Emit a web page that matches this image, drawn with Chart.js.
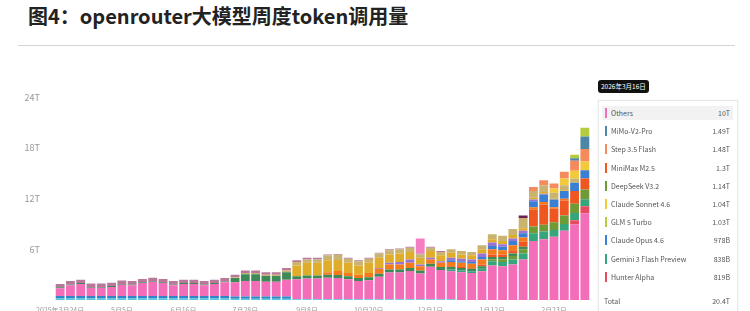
<!DOCTYPE html>
<html>
<head>
<meta charset="utf-8">
<script src="https://cdn.jsdelivr.net/npm/chart.js@4"></script>
<style>
body{margin:0;width:750px;height:311px;overflow:hidden;background:#fff;font-family:"Noto Sans CJK SC",sans-serif;position:relative}
#title{position:absolute;left:28px;top:1px;font-size:20px;font-weight:bold;color:#222;white-space:nowrap}
#rule{position:absolute;left:18px;top:45px;width:717px;height:1px;background:#d4d4d4}
#wrap{position:absolute;left:0;top:85px;width:600px;height:235px}
#badge{position:absolute;left:598px;top:80px;height:13px;padding:0 3px;background:#111;color:#fff;border-radius:3px;font-size:6.5px;line-height:13px}
#panel{position:absolute;left:598px;top:100px;width:138px;height:230px;border:1px solid #e8e8e8;background:#fff;box-shadow:0 0 3px rgba(0,0,0,.06)}
.row{position:absolute;left:3px;right:4px;height:14px;font-size:7px;color:#555;line-height:14px}
.row .mk{position:absolute;left:3px;top:2px;width:2px;height:10px}
.row .nm{position:absolute;left:9px}
.row .vl{position:absolute;right:3px}
</style>
</head>
<body>
<div id="title">图4：openrouter大模型周度token调用量</div>
<div id="rule"></div>
<div id="wrap"><canvas id="chart" width="600" height="235"></canvas></div>
<div id="badge">2026年3月16日</div>
<div id="panel"></div>
<script>
// weekly buckets
const weeks = ['2025年3月24日','2025年3月31日','2025年4月7日','2025年4月14日','2025年4月21日','2025年4月28日',
  '2025年5月5日','2025年5月12日','2025年5月19日','2025年5月26日','2025年6月2日','2025年6月9日',
  '2025年6月16日','2025年6月23日','2025年6月30日','2025年7月7日','2025年7月14日','2025年7月21日',
  '2025年7月28日','2025年8月4日','2025年8月11日','2025年8月18日','2025年8月25日','2025年9月1日',
  '2025年9月8日','2025年9月15日','2025年9月22日','2025年9月29日','2025年10月6日','2025年10月13日',
  '2025年10月20日','2025年10月27日','2025年11月3日','2025年11月10日','2025年11月17日','2025年11月24日',
  '2025年12月1日','2025年12月8日','2025年12月15日','2025年12月22日','2025年12月29日','2026年1月5日',
  '2026年1月12日','2026年1月19日','2026年1月26日','2026年2月2日','2026年2月9日','2026年2月16日',
  '2026年2月23日','2026年3月2日','2026年3月9日','2026年3月16日'];

// token volume per model, in T (bottom of stack first)
const gemini20Flash = [0.18,0.18,0.18,0.18,0.18,0.18,0.18,0.18,0.18,0.18,0.18,0.18,0.18,0.18,0.18,0.18,0.18,
  0.15,0.15,0.15,0.15,0.15,0.15,
  0.08,0.08,0.08,0.08,0.08,0.08,0.08,0.08,0.08,0.08,0.08,0.08,0.08,0.08,0.08,0.08,
  0,0,0,0,0,0,0,0,0,0,0,0,0];
const claude37 = [0.3,0.3,0.3,0.3,0.3,0.3,0.3,0.3,0.3,0.3,0.3,0.3,0.3,0.3,0.3,0.3,0.3,
  0.25,0.25,0.25,0.25,0.25,0.25,
  0.05,0.05,0.05,0.05,0.05,0.05,0.05,
  0,0,0,0,0,0,0,0,0,0,0,0,0,0,0,0,0,0,0,0,0,0];
const others = [0.92,1.27,1.42,0.97,0.97,1.07,1.32,1.27,1.52,1.67,1.52,1.27,1.42,1.42,1.27,1.42,1.62,
  1.7,1.85,1.85,1.75,1.75,2.0,
  2.32,2.42,2.42,2.52,2.47,2.32,2.12,2.27,2.67,3.17,3.17,3.37,3.07,3.87,3.47,
  3.32,3.3,3.2,3.4,4.1,4.0,4.2,4.8,
  7.0,7.2,7.5,8.2,8.95,10.285];
const hunterAlpha = [0,0,0,0,0,0,0,0,0,0,0,0,0,0,0,0,0,0,0,0,0,0,0,0,0,0,0,0,0,0,0,0,0,0,0,0,0,0,0,0,0,0,0,0,0,0,0,0,0,0,0.5,0.819];
const gemini3Flash = [0,0,0,0,0,0,0,0,0,0,0,0,0,0,0,0,0,0,0,0,0,0,0,0,0,0,0,0,0,0,0,0,0,0,0,0,0,0,
  0.2,0.2,0.2,0.3,0.5,0.5,0.6,0.7,
  0.9,0.9,0.8,0.8,0.85,0.838];
const deepseekV32 = [0,0,0,0,0,0,0,0,0,0,0,0,0,0,0,0,0,0,0,0,0,0,0,0,0,0,0,0,0,0,0,0,0,0,0,0,0,0,
  0,0,0,0,0.2,0.3,0.4,0.5,
  0.8,0.8,0.9,1.0,1.1,1.14];
const deepseekV3 = [0.1,0.1,0.1,0.1,0.1,0.1,0.1,0.1,0.1,0.1,0.1,0.1,0.1,0.1,0.1,0.1,0.1,
  0.5,0.8,0.8,0.7,0.7,0.9,
  0.35,0.35,0.35,0.35,0.35,0.35,0.35,0.35,0.35,0.35,0.35,0.35,0.35,0.35,0.35,
  0.3,0.3,0.3,0.3,0.3,0.3,0.3,0.3,
  0,0,0,0,0,0];
const minimaxM25 = [0,0,0,0,0,0,0,0,0,0,0,0,0,0,0,0,0,0,0,0,0,0,0,0,0,0,0,0,0,0,0,0,0,0,0,0,0,0,
  0.1,0.1,0.1,0.2,0.3,0.3,0.4,0.6,
  2.0,2.4,1.6,1.8,1.5,1.3];
const grokCodeFast = [0,0,0,0,0,0,0,0,0,0,0,0,0,0,0,0,0,0,0,0,0,0,0,0,0,0,
  0.3,0.5,0.4,0.4,0.5,0.6,0.6,0.6,0.6,0.5,0.5,0.5,
  0.5,0.5,0.5,0.6,0.6,0.5,0.6,0.5,
  0.3,0.3,0.2,0.2,0,0];
const claudeOpus46 = [0,0,0,0,0,0,0,0,0,0,0,0,0,0,0,0,0,0,0,0,0,0,0,0,0,0,0,0,0,0,0,0,0,0,0,0,0,0,
  0.2,0.2,0.2,0.3,0.4,0.4,0.5,0.5,
  0.7,0.9,0.9,0.9,1.0,0.978];
const gemini25Pro = [0,0,0,0,0,0,0,0,0,0,0,0,0,0,0,0,0,0,0,0,0,0,0,0,0,0,0,0,0,0,0,
  0.1,0.2,0.3,0.4,0.2,0.2,0.2,
  0.3,0.3,0.3,0.4,0.4,0.3,0.3,0.3,
  0.2,0.1,0,0,0,0];
const claudeSonnet4 = [0,0,0,0,0,0,0,0,0,0,0,0,0,0,0,0,0,0,0,0,0,0,0,
  1.3,1.5,1.5,1.4,1.3,1.2,1.1,1.2,1.2,1.0,1.0,0.9,0.8,0.8,0.7,
  0.6,0.5,0.5,0.5,0.4,0.4,0.4,0.3,
  0.2,0.2,0.1,0.1,0,0];
const gemini25Flash = [0,0,0,0,0,0,0,0,0,0,0,0,0,0,0,0,0,
  0.1,0.15,0.15,0.15,0.15,0.2,
  0.4,0.4,0.4,0.6,0.6,0.5,0.5,0.5,0.5,0.5,0.5,0.5,0.4,0.4,0.4,
  0.4,0.4,0.4,0.5,0.6,0.6,0.7,1.2,
  0.8,0.8,0.7,0.6,0.5,0];
const claudeSonnet46 = [0,0,0,0,0,0,0,0,0,0,0,0,0,0,0,0,0,0,0,0,0,0,0,0,0,0,0,0,0,0,0,0,0,0,0,0,0,0,0,0,0,0,0,0,0,0,0,0,0.5,0.8,0.9,1.04];
const step35Flash = [0,0,0,0,0,0,0,0,0,0,0,0,0,0,0,0,0,0,0,0,0,0,0,0,0,0,0,0,0,0,0,0,0,0,0,0,0,0,0,0,0,0,0,0,0,0,0.5,0.6,0.6,0.8,1.2,1.48];
const mimoV2Pro = [0,0,0,0,0,0,0,0,0,0,0,0,0,0,0,0,0,0,0,0,0,0,0,0,0,0,0,0,0,0,0,0,0,0,0,0,0,0,0,0,0,0,0,0,0,0,0,0,0,0,0.3,1.49];
const glm5Turbo = [0,0,0,0,0,0,0,0,0,0,0,0,0,0,0,0,0,0,0,0,0,0,0,0,0,0,0,0,0,0,0,0,0,0,0,0,0,0,0,0,0,0,0,0,0,0,0,0,0,0,0.4,1.03];
const claude37Think = [0.4,0.4,0.4,0.4,0.4,0.4,0.4,0.4,0.4,0.4,0.4,0.4,0.4,0.4,0.4,0.4,0.4,
  0.3,0.3,0.3,0.3,0.3,0.3,
  0.2,0.2,0.2,0.1,0.1,0.1,0.1,0.1,0.1,0.1,0.1,0.1,0.1,0.1,0.1,
  0,0,0,0,0,0,0,0,0,0,0,0,0,0];
const gpt5 = [0,0,0,0,0,0,0,0,0,0,0,0,0,0,0,0,0,0,0,0,0,0,0,0,0,0,0,0,0,0,0,0,0,0,0,0,0,0,0,0,0,0,0,0,0,0.3,0,0,0,0,0,0];
const stealth = [0,0,0,0,0,0,0,0,0,0,0,0,0,0,0,0,0,0,0,0,0,0,0,0,0,0,0,0,0,0,0,0,0,0,0,1.8,0,0,0,0,0,0,0,0,0,0,0,0,0,0,0,0];

// hover panel for the last week
const tipNames = ['Others','MiMo-V2-Pro','Step 3.5 Flash','MiniMax M2.5','DeepSeek V3.2','Claude Sonnet 4.6','GLM 5 Turbo','Claude Opus 4.6','Gemini 3 Flash Preview','Hunter Alpha'];
const tipValues = ['10T','1.49T','1.48T','1.3T','1.14T','1.04T','1.03T','978B','838B','819B'];
const tipTotal = '20.4T';

const series = [
  {label:'Gemini 2.0 Flash', data:gemini20Flash, color:'#56c6dc'},
  {label:'Claude 3.7 Sonnet', data:claude37, color:'#2f86c6'},
  {label:'Others', data:others, color:'#f46db8'},
  {label:'Hunter Alpha', data:hunterAlpha, color:'#e84a5f'},
  {label:'Gemini 3 Flash Preview', data:gemini3Flash, color:'#37a57c'},
  {label:'DeepSeek V3.2', data:deepseekV32, color:'#6f9a35'},
  {label:'DeepSeek V3', data:deepseekV3, color:'#3d8a57'},
  {label:'MiniMax M2.5', data:minimaxM25, color:'#f0561f'},
  {label:'Grok Code Fast 1', data:grokCodeFast, color:'#f57a1c'},
  {label:'Claude Opus 4.6', data:claudeOpus46, color:'#3b7fd4'},
  {label:'Gemini 2.5 Pro', data:gemini25Pro, color:'#9a74d2'},
  {label:'Claude Sonnet 4', data:claudeSonnet4, color:'#e0ad2a'},
  {label:'Gemini 2.5 Flash', data:gemini25Flash, color:'#c8b371'},
  {label:'Claude Sonnet 4.6', data:claudeSonnet46, color:'#f3c93c'},
  {label:'Step 3.5 Flash', data:step35Flash, color:'#f58b5c'},
  {label:'MiMo-V2-Pro', data:mimoV2Pro, color:'#4e86a8'},
  {label:'GLM 5 Turbo', data:glm5Turbo, color:'#b5cc3f'},
  {label:'Claude 3.7 Sonnet Thinking', data:claude37Think, color:'#b9789a'},
  {label:'GPT-5', data:gpt5, color:'#6b1f55'},
  {label:'Stealth', data:stealth, color:'#f47ec2'}
];

const colorOf = name => series.find(s => s.label === name).color;

// build the panel
const panel = document.getElementById('panel');
tipNames.forEach((n, i) => {
  const r = document.createElement('div');
  r.className = 'row';
  r.style.top = (5 + i * 18.2) + 'px';
  if (i === 0) r.style.background = '#f2f2f2';
  r.innerHTML = '<span class="mk" style="background:' + colorOf(n) + '"></span><span class="nm">' + n + '</span><span class="vl">' + tipValues[i] + '</span>';
  panel.appendChild(r);
});
const tot = document.createElement('div');
tot.className = 'row';
tot.style.top = '193px';
tot.innerHTML = '<span class="nm" style="left:2px">Total</span><span class="vl">' + tipTotal + '</span>';
panel.appendChild(tot);

const ctx = document.getElementById('chart').getContext('2d');
new Chart(ctx, {
  type: 'bar',
  data: {
    labels: weeks,
    datasets: series.map(s => ({
      label: s.label,
      data: s.data,
      backgroundColor: s.color,
      borderWidth: 0,
      barPercentage: 0.86,
      categoryPercentage: 1.0
    }))
  },
  options: {
    responsive: false,
    animation: false,
    layout: {padding: {top: 10, right: 10, bottom: 0, left: 0}},
    plugins: {legend: {display: false}, tooltip: {enabled: false}},
    scales: {
      x: {
        stacked: true,
        grid: {display: false, drawTicks: false},
        border: {display: false},
        afterFit: s => { s.height = 20; },
        ticks: {
          autoSkip: false, maxRotation: 0, padding: 6, color: '#999',
          font: {size: 7, family: '"Noto Sans CJK SC"'},
          callback: (v, i) => i % 6 === 0 ? (i === 0 ? weeks[i] : weeks[i].slice(5)) : ''
        }
      },
      y: {
        stacked: true, min: 0, max: 24,
        grid: {display: false},
        border: {display: false},
        afterFit: s => { s.width = 55; },
        ticks: {
          stepSize: 6, padding: 7, color: '#999',
          font: {size: 9, family: '"Noto Sans CJK SC"'},
          callback: v => v === 0 ? '' : v + 'T'
        }
      }
    }
  }
});
</script>
</body>
</html>
